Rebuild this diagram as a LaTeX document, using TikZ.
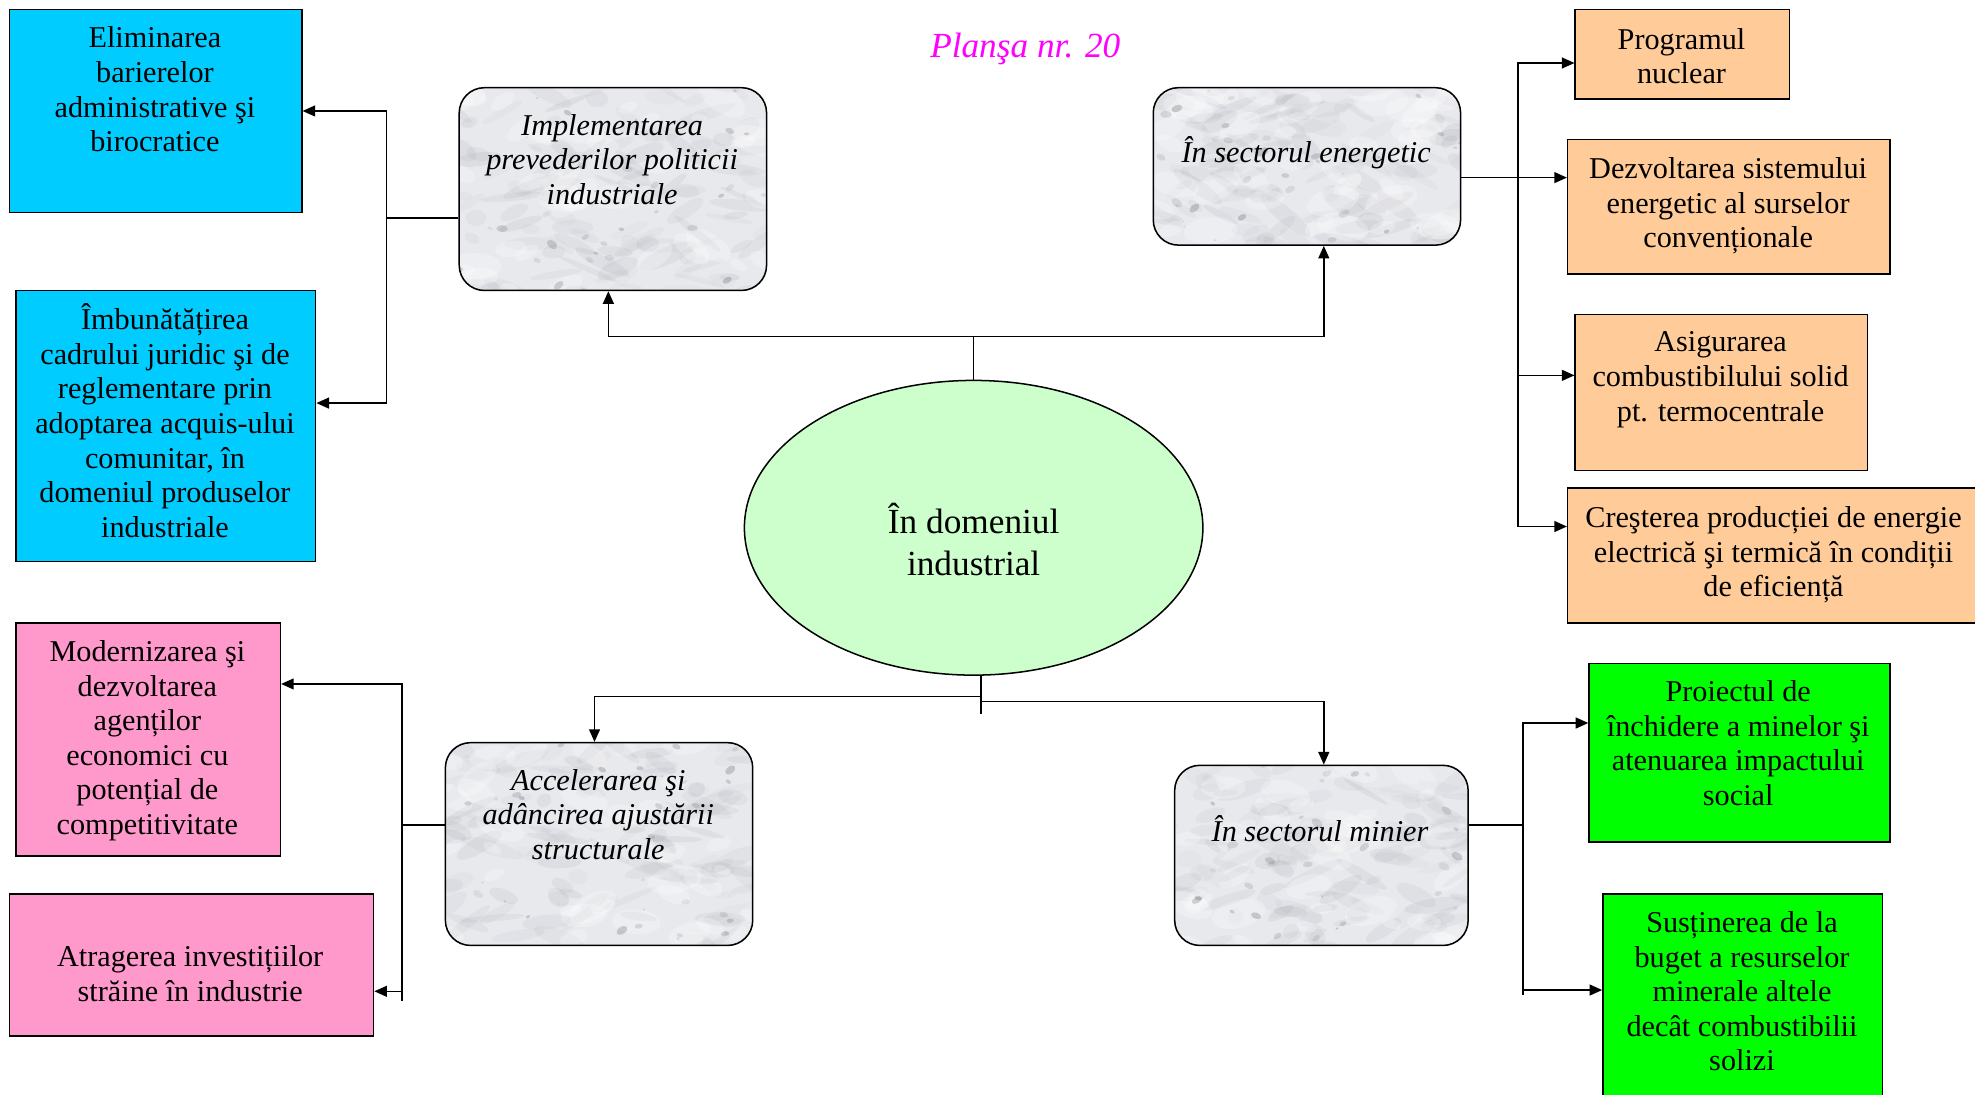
\documentclass[tikz,border=0pt]{standalone}
\usepackage{fontspec}
\setmainfont{Liberation Serif}
\usepackage{tikz}
\usetikzlibrary{arrows.meta,calc,backgrounds,shapes.geometric}

\definecolor{boxcyan}{RGB}{0,204,255}
\definecolor{boxpink}{RGB}{255,153,204}
\definecolor{boxorange}{RGB}{255,204,153}
\definecolor{boxgreen}{RGB}{0,255,0}
\definecolor{ellgreen}{RGB}{204,255,204}
\definecolor{titlemagenta}{RGB}{255,0,255}
\definecolor{marblebase}{RGB}{232,233,237}
\definecolor{marblecloud}{RGB}{150,152,160}
\definecolor{marblevein}{RGB}{90,92,100}

% marble look for the rounded boxes
\newcommand{\marblefill}[1]{%
  \begin{scope}
    \clip[rounded corners=15pt] (#1.south west) rectangle (#1.north east);
    \fill[marblebase] (#1.south west) rectangle (#1.north east);
    % grey clouds
    \foreach \k in {1,...,110}{
      \pgfmathsetmacro\px{rnd}
      \pgfmathsetmacro\py{rnd}
      \pgfmathsetmacro\ra{6+20*rnd}
      \pgfmathsetmacro\rb{2+5*rnd}
      \pgfmathsetmacro\op{0.04+0.09*rnd}
      \pgfmathsetmacro\ang{-40+80*rnd}
      \path ($(#1.south west)!\px!(#1.south east)$) coordinate (mx)
            ($(#1.south west)!\py!(#1.north west)$) coordinate (my);
      \fill[marblecloud, opacity=\op, shift={(mx |- my)}, rotate=\ang] (0,0) ellipse ({\ra} and {\rb});
    }
    % white patches
    \foreach \k in {1,...,40}{
      \pgfmathsetmacro\px{rnd}
      \pgfmathsetmacro\py{rnd}
      \pgfmathsetmacro\ra{6+16*rnd}
      \pgfmathsetmacro\ang{-40+80*rnd}
      \path ($(#1.south west)!\px!(#1.south east)$) coordinate (mx)
            ($(#1.south west)!\py!(#1.north west)$) coordinate (my);
      \fill[white, opacity=0.25, shift={(mx |- my)}, rotate=\ang] (0,0) ellipse ({\ra} and {\ra*0.5});
    }
    % dark specks
    \foreach \k in {1,...,35}{
      \pgfmathsetmacro\px{rnd}
      \pgfmathsetmacro\py{rnd}
      \pgfmathsetmacro\ra{1+4*rnd}
      \pgfmathsetmacro\op{0.08+0.2*rnd}
      \pgfmathsetmacro\ang{-40+80*rnd}
      \path ($(#1.south west)!\px!(#1.south east)$) coordinate (mx)
            ($(#1.south west)!\py!(#1.north west)$) coordinate (my);
      \fill[marblevein, opacity=\op, shift={(mx |- my)}, rotate=\ang] (0,0) ellipse ({\ra} and {\ra*0.6});
    }
  \end{scope}}

\begin{document}
\begin{tikzpicture}[x=0.75pt,y=0.75pt,yscale=-1,xscale=1,
  conn/.style={line width=0.9pt},
  arr/.style={conn,-{Triangle[length=7.5pt,width=6.5pt]}},
  plainbox/.style={draw,line width=0.9pt,inner sep=0pt,anchor=north west},
  marblebox/.style={plainbox,rounded corners=15pt},
  boxtext/.style={align=center,inner sep=0pt,font=\fontsize{18}{20.6}\selectfont},
  marbletext/.style={boxtext,font=\itshape\fontsize{18}{20.6}\selectfont}]
\useasboundingbox (0,0) rectangle (1568,869);
\pgfmathsetseed{11}

%Shapes: left boxes
\node[plainbox,fill=boxcyan,minimum width=174pt,minimum height=120.75pt] (elim) at (7,7) {};
\node[plainbox,fill=boxcyan,minimum width=178.5pt,minimum height=161.25pt] (imbun) at (12,230) {};
\node[plainbox,fill=boxpink,minimum width=157.5pt,minimum height=138.75pt] (modern) at (12,494) {};
\node[plainbox,fill=boxpink,minimum width=216.75pt,minimum height=84.75pt] (atrag) at (7,709) {};
%Shapes: right boxes
\node[plainbox,fill=boxorange,minimum width=127.5pt,minimum height=53.25pt] (prog) at (1250,7) {};
\node[plainbox,fill=boxorange,minimum width=192pt,minimum height=80.25pt] (dezv) at (1244,110) {};
\node[plainbox,fill=boxorange,minimum width=174pt,minimum height=93pt] (asig) at (1250,249) {};
\node[plainbox,fill=boxorange,minimum width=248.25pt,minimum height=80.25pt] (crest) at (1244,387) {};
\node[plainbox,fill=boxgreen,minimum width=179.25pt,minimum height=106.5pt] (proiect) at (1261,526) {};
\node[plainbox,fill=boxgreen,minimum width=166.5pt,minimum height=128.25pt] (sust) at (1272,709) {};
%Shapes: marble boxes
\node[marblebox,minimum width=183pt,minimum height=120.75pt] (impl) at (364,69) {};
\node[marblebox,minimum width=183pt,minimum height=93.75pt] (ener) at (915,69) {};
\node[marblebox,minimum width=183pt,minimum height=120.75pt] (accel) at (353,589) {};
\node[marblebox,minimum width=174.75pt,minimum height=107.25pt] (minier) at (932,607) {};
%Shape: Ellipse
\node[ellipse,draw,line width=0.9pt,fill=ellgreen,inner sep=0pt,minimum width=273pt,minimum height=175.5pt] (ell) at (773,419) {};

\begin{pgfonlayer}{background}
\marblefill{impl}
\marblefill{ener}
\marblefill{accel}
\marblefill{minier}
\end{pgfonlayer}

%Connectors: top
\coordinate (topj) at (773,267);
\draw[conn] (ell.north) -- (topj);
\draw[arr] (topj) -| (impl.south -| 483,0);
\draw[arr] (topj) -| (ener.south -| 1051,0);
%Connectors: Implementarea
\coordinate (lj) at (307,173);
\draw[conn] (impl.west |- lj) -- (lj);
\draw[arr] (lj) |- (elim.east);
\draw[arr] (lj) |- (imbun.east |- 0,320);
%Connectors: energetic
\coordinate (rj) at (1205,141);
\draw[arr] (ener.east |- rj) -- (dezv.west |- rj);
\draw[arr] (rj) |- (prog.west |- 0,50);
\draw[arr] (rj) |- (asig.west |- 0,298);
\draw[arr] (rj) |- (crest.west |- 0,418);
%Connectors: bottom
\coordinate (bj) at (779,553);
\coordinate (bk) at (779,557);
\draw[conn] (ell.south -| bj) -- ++(0,30);
\draw[arr] (bj) -| (accel.north -| 472,0);
\draw[arr] (bk) -| (minier.north -| 1051,0);
%Connectors: Accelerarea
\coordinate (aj) at (319,655);
\draw[conn] (accel.west |- aj) -- (aj);
\draw[arr] (aj) |- (modern.east |- 0,543);
\draw[arr] (aj) |- (atrag.east |- 0,787);
\draw[conn] (aj |- 0,787) -- (aj |- 0,795);
%Connectors: minier
\coordinate (mj) at (1209,655);
\draw[conn] (minier.east |- mj) -- (mj);
\draw[arr] (mj) |- (proiect.west |- 0,574);
\draw[arr] (mj) |- (sust.west |- 0,786);
\draw[conn] (mj |- 0,786) -- (mj |- 0,790);

% Text Node
\node[font=\itshape\fontsize{21}{24}\selectfont,text=titlemagenta,inner sep=0pt] (title) at (814,39) {Planşa nr. 20};
% Text Node
\node[boxtext] (elimt) at (123,71) {Eliminarea\\barierelor\\administrative şi\\birocratice};
% Text Node
\node[boxtext] (imbunt) at (131,334) {Îmbunătățirea\\cadrului juridic şi de\\reglementare prin\\adoptarea acquis-ului\\comunitar, în\\domeniul produselor\\industriale};
% Text Node
\node[boxtext] (modernt) at (117,588) {Modernizarea şi\\dezvoltarea\\agenților\\economici cu\\potențial de\\competitivitate};
% Text Node
\node[boxtext] (atragt) at (151,773) {Atragerea investițiilor\\străine în industrie};
% Text Node
\node[boxtext] (progt) at (1335,44.5) {Programul\\nuclear};
% Text Node
\node[boxtext] (dezvt) at (1372,163.5) {Dezvoltarea sistemului\\energetic al surselor\\convenționale};
% Text Node
\node[boxtext] (asigt) at (1366,301.5) {Asigurarea\\combustibilului solid\\pt. termocentrale};
% Text Node
\node[boxtext] (crestt) at (1408,440.5) {Creşterea producției de energie\\electrică şi termică în condiții\\de eficiență};
% Text Node
\node[boxtext] (proiectt) at (1380,590) {Proiectul de\\închidere a minelor şi\\atenuarea impactului\\social};
% Text Node
\node[boxtext] (sustt) at (1383,787) {Susținerea de la\\buget a resurselor\\minerale altele\\decât combustibilii\\solizi};
% Text Node
\node[marbletext] (implt) at (486,126.5) {Implementarea\\prevederilor politicii\\industriale};
% Text Node
\node[marbletext] (enert) at (1037,121) {În sectorul energetic};
% Text Node
\node[marbletext] (accelt) at (475,646.5) {Accelerarea şi\\adâncirea ajustării\\structurale};
% Text Node
\node[marbletext] (miniert) at (1048,658) {În sectorul minier};
% Text Node
\node[align=center,inner sep=0pt,font=\fontsize{21}{24.75}\selectfont] (ellt) at (773,428.5) {În domeniul\\industrial};

\end{tikzpicture}
\end{document}
